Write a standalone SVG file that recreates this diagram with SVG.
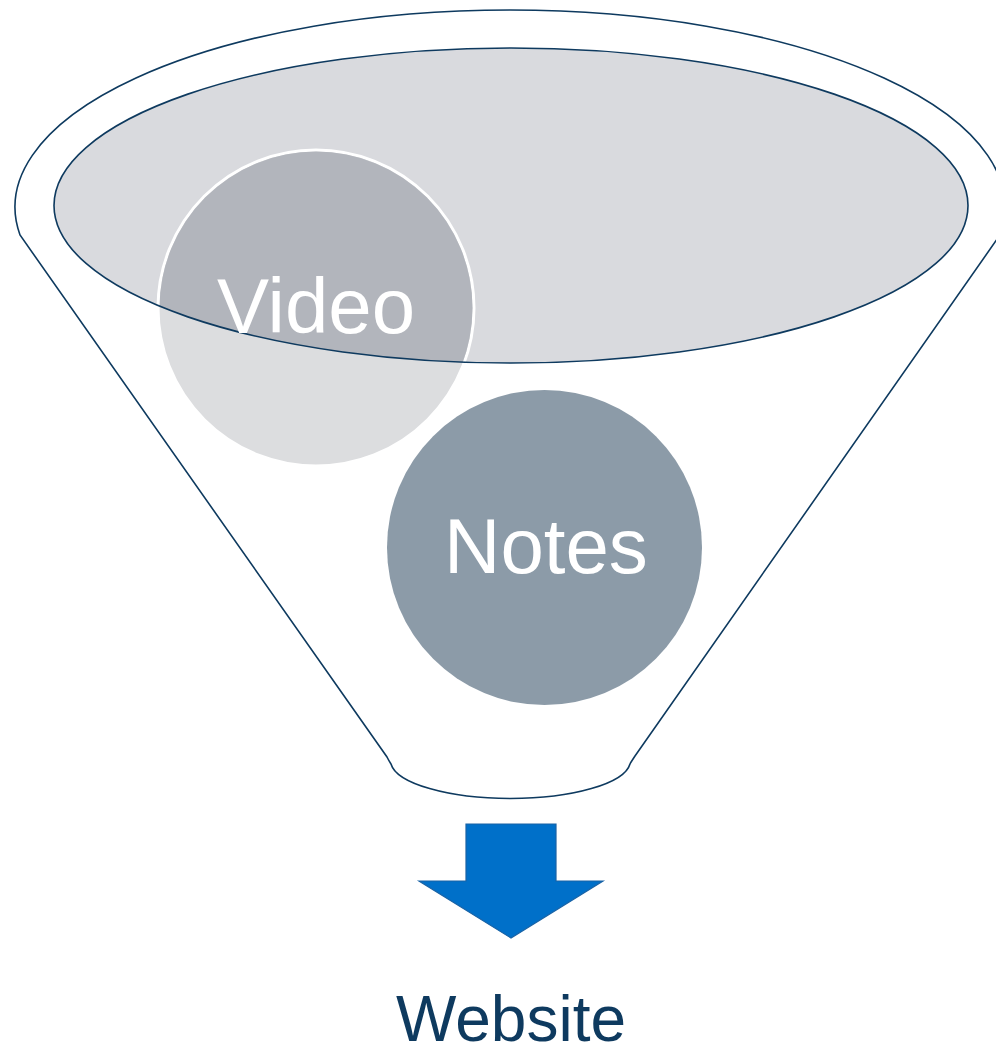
<svg xmlns="http://www.w3.org/2000/svg" width="996" height="1047" viewBox="0 0 996 1047">
<style>
.line{fill:none;stroke:#0E3A5F;stroke-width:1.6}
.lbl{font-family:"Liberation Sans",Arial,sans-serif;font-size:78px;fill:#FFFFFF;text-anchor:middle}
.web{font-family:"Liberation Sans",Arial,sans-serif;font-size:64px;fill:#0E3A5F;text-anchor:middle}
</style>
<defs>
<clipPath id="inEll"><ellipse cx="511" cy="205.5" rx="457" ry="157.5"/></clipPath>
</defs>
<rect width="996" height="1047" fill="#FFFFFF"/>
<g id="funnel">
<path class="line" d="M 20 235 A 495 197 0 1 1 1000 235 L 635 756 Q 631 762 630 764 A 120 38 0 0 1 391 764 Q 389 761 387 757 Z" fill="#FFFFFF"/>
<ellipse cx="511" cy="205.5" rx="457" ry="157.5" fill="#D9DADE"/>
</g>
<g id="video">
<circle cx="316" cy="308" r="158" fill="#DCDDDF" stroke="#FFFFFF" stroke-width="3"/>
<circle cx="316" cy="308" r="156.5" fill="#B2B5BC" clip-path="url(#inEll)"/>
</g>
<ellipse class="line" cx="511" cy="205.5" rx="457" ry="157.5"/>
<text class="lbl" x="316" y="333">Video</text>
<g id="notes">
<circle cx="544.5" cy="547.5" r="157.5" fill="#8C9BA8"/>
<text class="lbl" x="546" y="573">Notes</text>
</g>
<g id="connectors">
<polygon points="466,824 556,824 556,881 603,881 511,938 419,881 466,881" fill="#0070C9" stroke="#1963A6" stroke-width="1.2"/>
</g>
<g id="website">
<text class="web" x="511" y="1041">Website</text>
</g>
</svg>
